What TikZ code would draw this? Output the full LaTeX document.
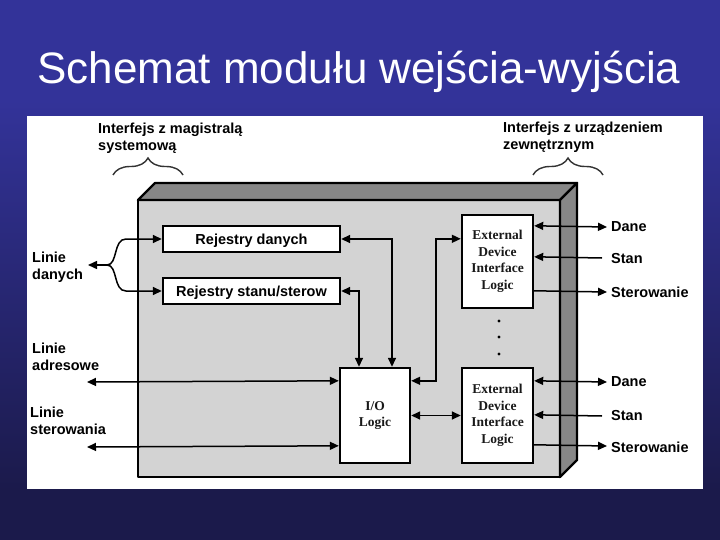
\documentclass[tikz,border=0pt]{standalone}
\usepackage{fontspec}
\setmainfont{Liberation Sans}
\newfontfamily\tnr{Liberation Serif}
\usetikzlibrary{arrows.meta,calc,decorations.pathreplacing}
\definecolor{bgtop}{HTML}{333399}
\definecolor{bgbot}{HTML}{1B1A4B}
\definecolor{frontc}{HTML}{D3D3D3}
\definecolor{facec}{HTML}{878787}
\begin{document}
\begin{tikzpicture}[x=1pt,y=-1pt,
  lbl/.style={font=\fontsize{14.5}{16.5}\selectfont\bfseries, inner sep=0pt, align=left},
  regbox/.style={draw, fill=white, line width=2.4pt, minimum width=177pt, minimum height=26pt, inner sep=0pt, text height=10.4pt, text depth=0pt, font=\fontsize{14.5}{16.5}\selectfont\bfseries},
  logicbox/.style={draw, fill=white, line width=2.4pt, minimum width=71pt, inner sep=0pt, align=center, font=\fontsize{13.5}{16.5}\selectfont\tnr\bfseries, text=black!90},
  conn/.style={line width=1.5pt, >={Triangle[length=9pt,width=8pt]}},
  bracestyle/.style={decorate, decoration={brace, amplitude=17pt}, line width=1.4pt, black!80},
  facestyle/.style={draw, line width=2.4pt, line join=round}
]
\useasboundingbox (0,0) rectangle (720,540);
% background
\fill[bgtop] (0,0) rectangle (720,101);
\shade[top color=bgtop, bottom color=bgbot] (0,100) rectangle (720,490);
\fill[bgbot] (0,489) rectangle (720,540);
\fill[white] (27,116) rectangle (703,489);
% title
\node[text=white, font=\fontsize{44}{50}\selectfont, anchor=base, inner sep=0pt] (title) at (359,84) {Schemat modułu wejścia-wyjścia};
% 3D module box
\draw[facestyle, fill=frontc] (138,200) rectangle (560,477);
\draw[facestyle, fill=facec] (138,200) -- (155,183) -- (577,183) -- (560,200) -- cycle;
\draw[facestyle, fill=facec] (560,200) -- (577,183) -- (577,460) -- (560,477) -- cycle;
% inner blocks
\node[regbox] (regd) at (251.5,239) {Rejestry danych};
\node[regbox] (regs) at (251.5,291) {Rejestry stanu/sterow};
\node[logicbox, minimum width=70pt, minimum height=95pt] (io) at (375,415.5) {I/O\\Logic};
\node[logicbox, minimum height=93pt] (ext1) at (497.5,261.5) {External\\Device\\Interface\\Logic};
\node[logicbox, minimum height=95pt] (ext2) at (497.5,415.5) {External\\Device\\Interface\\Logic};
\fill (499,321) circle (1.7pt);
\fill (499,337) circle (1.7pt);
\fill (499,354) circle (1.7pt);
% internal connectors
\draw[conn,<->] (regd.east) -| ([xshift=17pt]io.north);
\draw[conn,<->] (regs.east) -| ([xshift=-16pt]io.north);
\draw[conn,<->] ($(io.north east)+(0,14)$) -- ++(25,0) |- ($(ext1.north west)+(0,25)$);
\draw[conn,<->] (io.east) -- (ext2.west);
% left side
\coordinate (ld) at (88,265);
\coordinate (lj) at (107,265);
\draw[conn,->] (lj) -- (ld);
\draw[conn,->] (lj) .. controls (118,265) and (113,239) .. (126,239) -- (regd.west);
\draw[conn,->] (lj) .. controls (118,265) and (113,291) .. (126,291) -- (regs.west);
\coordinate (la) at (87,382);
\draw[conn,<->] (la) -- ($(io.north west)+(0,14)$);
\coordinate (ls) at (87,447);
\draw[conn,<->] (ls) -- ($(io.north west)+(0,79)$);
% right side
\coordinate (d1e) at (607,227);
\coordinate (s1e) at (602,258);
\coordinate (t1e) at (607,292);
\coordinate (d2e) at (607,382);
\coordinate (s2e) at (602,416);
\coordinate (t2e) at (607,446);
\draw[conn,<->] ($(ext1.north east)+(0,12)$) -- (d1e);
\draw[conn,->] (s1e) -- ($(ext1.north east)+(0,43)$);
\draw[conn,->] ($(ext1.north east)+(0,77)$) -- (t1e);
\draw[conn,<->] ($(ext2.north east)+(0,14)$) -- (d2e);
\draw[conn,->] (s2e) -- ($(ext2.north east)+(0,48)$);
\draw[conn,->] ($(ext2.north east)+(0,78)$) -- (t2e);
% labels
\node[lbl, anchor=west] (dane1) at (611,227) {Dane};
\node[lbl, anchor=west] (stan1) at (611,259) {Stan};
\node[lbl, anchor=west] (ster1) at (611,292) {Sterowanie};
\node[lbl, anchor=west] (dane2) at (611,382) {Dane};
\node[lbl, anchor=west] (stan2) at (611,416) {Stan};
\node[lbl, anchor=west] (ster2) at (611,447) {Sterowanie};
\node[lbl, anchor=north west] (lbus) at (98,123) {Interfejs z magistralą\\systemową};
\node[lbl, anchor=north west] (ldev) at (503,122) {Interfejs z urządzeniem\\zewnętrznym};
\node[lbl, anchor=north west] (ldan) at (32,252) {Linie\\danych};
\node[lbl, anchor=north west] (ladr) at (32,343) {Linie\\adresowe};
\node[lbl, anchor=north west] (lste) at (30,407) {Linie\\sterowania};
% braces
\draw[bracestyle] (113,175) -- (183,175);
\draw[bracestyle] (533,175) -- (603,175);
\end{tikzpicture}
\end{document}
